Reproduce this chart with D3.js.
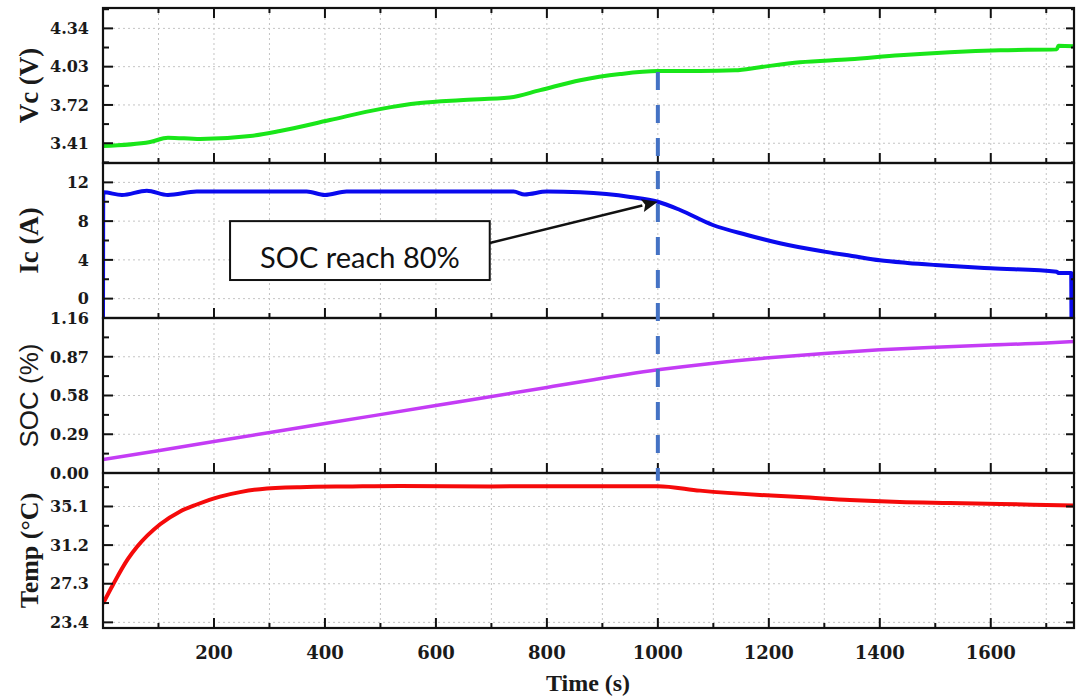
<!DOCTYPE html>
<html>
<head>
<meta charset="utf-8">
<script src="https://cdn.jsdelivr.net/npm/d3@7"></script>
<style>
  body { margin: 0; background: #fff; }
  svg { display: block; }
</style>
</head>
<body>
<svg id="chart" width="1076" height="698"></svg>
<script>
// ---- Time axis ----
const timeDomain = [0, 1750];
const timeMajorTicks = [200, 400, 600, 800, 1000, 1200, 1400, 1600];
const timeMinorTicks = [100, 300, 500, 700, 900, 1100, 1300, 1500, 1700];
const timeGridLines = [100, 200, 300, 400, 500, 600, 700, 800, 900, 1000, 1100, 1200, 1300, 1400, 1500, 1600, 1700];

// ---- Cell voltage Vc (V) ----
const vcDomain = [3.25, 4.505];
const vcTicks = [3.41, 3.72, 4.03, 4.34];
const vcTickLabels = ["3.41", "3.72", "4.03", "4.34"];
const vcMinorTicks = [3.255, 3.565, 3.875, 4.185, 4.495];
const vcData = [
  [0, 3.387], [85, 3.42], [117, 3.455], [175, 3.444], [265, 3.468], [319, 3.509],
  [409, 3.598], [499, 3.686], [571, 3.735], [643, 3.759], [733, 3.78], [788, 3.84],
  [860, 3.92], [932, 3.97], [1000, 3.994], [1076, 3.994], [1139, 4.0], [1184, 4.026],
  [1256, 4.066], [1346, 4.09], [1436, 4.123], [1526, 4.147], [1617, 4.163],
  [1719, 4.17], [1722, 4.20], [1750, 4.195]
];

// ---- Charging current Ic (A) ----
const icDomain = [-2, 14];
const icTicks = [0, 4, 8, 12];
const icTickLabels = ["0", "4", "8", "12"];
const icMinorTicks = [-2, 2, 6, 10, 14];
const icData = [
  [0, -3], [0.5, 10.97], [34, 10.7], [79, 11.14], [117, 10.7], [169, 11.05],
  [367, 11.05], [400, 10.7], [439, 11.05], [740, 11.05], [760, 10.75], [800, 11.05],
  [860, 10.97], [950, 10.5], [1000, 10.0], [1040, 9.15], [1099, 7.6], [1161, 6.57],
  [1220, 5.71], [1300, 4.85], [1350, 4.4], [1400, 3.95], [1450, 3.68], [1500, 3.47],
  [1600, 3.13], [1719, 2.78], [1722, 2.64], [1745, 2.64], [1745.5, -3]
];

// ---- State of charge SOC ----
const socDomain = [0, 1.16];
const socTicks = [0, 0.29, 0.58, 0.87, 1.16];
const socTickLabels = ["0.00", "0.29", "0.58", "0.87", "1.16"];
const socMinorTicks = [0.145, 0.435, 0.725, 1.015];
const socData = [
  [0, 0.10], [200, 0.235], [400, 0.37], [600, 0.505], [800, 0.64], [1000, 0.772],
  [1100, 0.822], [1200, 0.862], [1300, 0.895], [1400, 0.922], [1500, 0.942],
  [1600, 0.958], [1700, 0.973], [1750, 0.985]
];

// ---- Cell temperature (°C) ----
const tempDomain = [22.83, 38.48];
const tempTicks = [23.4, 27.3, 31.2, 35.1];
const tempTickLabels = ["23.4", "27.3", "31.2", "35.1"];
const tempMinorTicks = [25.35, 29.25, 33.15, 37.05];
const tempData = [
  [0, 25.3], [18, 27.2], [45, 29.8], [61, 31.0], [103, 33.3], [139, 34.6],
  [169, 35.3], [211, 36.1], [247, 36.55], [283, 36.85], [355, 37.05], [445, 37.12],
  [535, 37.17], [700, 37.12], [800, 37.15], [1000, 37.15], [1076, 36.7], [1184, 36.26],
  [1256, 36.06], [1346, 35.75], [1436, 35.55], [1526, 35.45], [1617, 35.35], [1750, 35.2]
];

// ---- Annotation: SOC reaches 80% at t = 1000 s ----
const markerTime = 1000;
const markerVcStart = 3.994;
const markerTempEnd = 37.7;
const annotationText = "SOC reach 80%";
const annotationBox = { t0: 229, t1: 697, i0: 8.0, i1: 1.92 };
const arrowTail = [697, 5.74];
const arrowHead = [1000, 10.0];

// ---- Layout ----
const plotLeft = 103, plotRight = 1074, plotTop = 8, panelH = 155;

const svg = d3.select("#chart");
const x = d3.scaleLinear().domain(timeDomain).range([plotLeft, plotRight]);

const panels = [
  { key: "vc", title: "Vc (V)", titleFont: "Liberation Serif", titleWeight: "bold", titleSize: 27,
    domain: vcDomain, ticks: vcTicks, labels: vcTickLabels, minor: vcMinorTicks,
    data: vcData, color: "#19e619", width: 4 },
  { key: "ic", title: "Ic (A)", titleFont: "Liberation Serif", titleWeight: "bold", titleSize: 27,
    domain: icDomain, ticks: icTicks, labels: icTickLabels, minor: icMinorTicks,
    data: icData, color: "#0a0aee", width: 4 },
  { key: "soc", title: "SOC (%)", titleFont: "Liberation Sans", titleWeight: "normal", titleSize: 26,
    domain: socDomain, ticks: socTicks, labels: socTickLabels, minor: socMinorTicks,
    data: socData, color: "#c43cf5", width: 3.5 },
  { key: "temp", title: "Temp (°C)", titleFont: "Liberation Serif", titleWeight: "bold", titleSize: 26,
    domain: tempDomain, ticks: tempTicks, labels: tempTickLabels, minor: tempMinorTicks,
    data: tempData, color: "#f50a0a", width: 4 }
];

panels.forEach((p, i) => {
  p.top = plotTop + i * panelH;
  p.bottom = p.top + panelH;
  p.y = d3.scaleLinear().domain(p.domain).range([p.bottom, p.top]);
});

const defs = svg.append("defs");
panels.forEach(p => {
  defs.append("clipPath").attr("id", "clip-" + p.key)
    .append("rect").attr("x", plotLeft).attr("y", p.top)
    .attr("width", plotRight - plotLeft).attr("height", panelH);
});

const gridColor = "#c4c4c4";
const tickFont = "DejaVu Serif";

panels.forEach((p, i) => {
  const g = svg.append("g").attr("class", "panel-" + p.key);

  // grid
  g.append("g").selectAll("line").data(timeGridLines).join("line")
    .attr("x1", d => x(d)).attr("x2", d => x(d))
    .attr("y1", p.top).attr("y2", p.bottom)
    .attr("stroke", gridColor).attr("stroke-width", 1).attr("stroke-dasharray", "2,3");
  g.append("g").selectAll("line").data(p.ticks.filter(v => p.y(v) > p.top + 1 && p.y(v) < p.bottom - 1)).join("line")
    .attr("x1", plotLeft).attr("x2", plotRight)
    .attr("y1", d => p.y(d)).attr("y2", d => p.y(d))
    .attr("stroke", gridColor).attr("stroke-width", 1).attr("stroke-dasharray", "2,3");

  // series
  const line = d3.line().x(d => x(d[0])).y(d => p.y(d[1])).curve(d3.curveMonotoneX);
  g.append("path").datum(p.data)
    .attr("clip-path", "url(#clip-" + p.key + ")")
    .attr("fill", "none").attr("stroke", p.color).attr("stroke-width", p.width)
    .attr("stroke-linejoin", "round").attr("stroke-linecap", "butt")
    .attr("d", line);

  // left ticks (inward)
  const axG = g.append("g").attr("stroke", "#111").attr("stroke-width", 2);
  axG.selectAll(".lmaj").data(p.ticks).join("line")
    .attr("x1", plotLeft).attr("x2", plotLeft + 10)
    .attr("y1", d => p.y(d)).attr("y2", d => p.y(d));
  axG.selectAll(".lmin").data(p.minor).join("line")
    .attr("x1", plotLeft).attr("x2", plotLeft + 6)
    .attr("y1", d => p.y(d)).attr("y2", d => p.y(d));
  // right ticks (inward)
  axG.selectAll(".rmaj").data(p.ticks).join("line")
    .attr("x1", plotRight).attr("x2", plotRight - 8)
    .attr("y1", d => p.y(d)).attr("y2", d => p.y(d));
  axG.selectAll(".rmin").data(p.minor).join("line")
    .attr("x1", plotRight).attr("x2", plotRight - 3)
    .attr("y1", d => p.y(d)).attr("y2", d => p.y(d));
  // bottom ticks pointing up
  axG.selectAll(".bmaj").data(timeMajorTicks).join("line")
    .attr("x1", d => x(d)).attr("x2", d => x(d))
    .attr("y1", p.bottom).attr("y2", p.bottom - 10);
  axG.selectAll(".bmin").data(timeMinorTicks).join("line")
    .attr("x1", d => x(d)).attr("x2", d => x(d))
    .attr("y1", p.bottom).attr("y2", p.bottom - 5);
  if (i === 0) {
    axG.selectAll(".tmaj").data(timeMajorTicks).join("line")
      .attr("x1", d => x(d)).attr("x2", d => x(d))
      .attr("y1", p.top).attr("y2", p.top + 10);
    axG.selectAll(".tmin").data(timeMinorTicks).join("line")
      .attr("x1", d => x(d)).attr("x2", d => x(d))
      .attr("y1", p.top).attr("y2", p.top + 5);
  }

  // frame
  g.append("rect").attr("x", plotLeft).attr("y", p.top)
    .attr("width", plotRight - plotLeft).attr("height", panelH)
    .attr("fill", "none").attr("stroke", "#111").attr("stroke-width", 2.2);

  // tick labels
  g.append("g").selectAll("text").data(p.ticks).join("text")
    .attr("x", 89).attr("y", d => p.y(d)).attr("dy", "0.36em")
    .attr("text-anchor", "end")
    .attr("font-family", tickFont).attr("font-weight", "bold").attr("font-size", 16)
    .attr("fill", "#1a1a1a")
    .text((d, k) => p.labels[k]);

  // axis title
  const cy = (p.top + p.bottom) / 2;
  g.append("text")
    .attr("transform", `translate(38,${cy}) rotate(-90)`)
    .attr("text-anchor", "middle")
    .attr("font-family", p.titleFont).attr("font-weight", p.titleWeight)
    .attr("font-size", p.titleSize).attr("fill", "#1a1a1a")
    .text(p.title);
});

// x tick labels and title
const bottomPanel = panels[panels.length - 1];
svg.append("g").selectAll("text").data(timeMajorTicks).join("text")
  .attr("x", d => x(d)).attr("y", bottomPanel.bottom + 31)
  .attr("text-anchor", "middle")
  .attr("font-family", tickFont).attr("font-weight", "bold").attr("font-size", 18)
  .attr("fill", "#1a1a1a")
  .text(d => d);
svg.append("text")
  .attr("x", 588).attr("y", 691)
  .attr("text-anchor", "middle")
  .attr("font-family", "Liberation Serif").attr("font-weight", "bold").attr("font-size", 24)
  .attr("fill", "#1a1a1a")
  .text("Time (s)");

// dashed marker line at t = 1000 s
const vcP = panels[0], icP = panels[1], tempP = panels[3];
svg.append("line")
  .attr("x1", x(markerTime)).attr("x2", x(markerTime))
  .attr("y1", vcP.y(markerVcStart) + 1).attr("y2", tempP.y(markerTempEnd))
  .attr("stroke", "#4472c4").attr("stroke-width", 4).attr("stroke-dasharray", "18,15");

// annotation box
const bx0 = x(annotationBox.t0), bx1 = x(annotationBox.t1);
const by0 = icP.y(annotationBox.i0), by1 = icP.y(annotationBox.i1);
svg.append("rect")
  .attr("x", bx0).attr("y", by0).attr("width", bx1 - bx0).attr("height", by1 - by0)
  .attr("fill", "#fff").attr("stroke", "#111").attr("stroke-width", 2);
svg.append("text")
  .attr("x", (bx0 + bx1) / 2).attr("y", by0 + 47)
  .attr("text-anchor", "middle")
  .attr("font-family", "Lato, 'Liberation Sans', sans-serif").attr("font-size", 29)
  .attr("fill", "#111")
  .text(annotationText);

// arrow from the box to the curve at t = 1000 s
const ax0 = x(arrowTail[0]), ay0 = icP.y(arrowTail[1]);
const ax1 = x(arrowHead[0]), ay1 = icP.y(arrowHead[1]);
const ang = Math.atan2(ay1 - ay0, ax1 - ax0);
const headLen = 16, headHalf = 6.5;
const bxh = ax1 - headLen * Math.cos(ang), byh = ay1 - headLen * Math.sin(ang);
svg.append("line")
  .attr("x1", ax0).attr("y1", ay0).attr("x2", bxh).attr("y2", byh)
  .attr("stroke", "#111").attr("stroke-width", 2.5);
svg.append("path")
  .attr("d", `M${ax1},${ay1}L${bxh - headHalf * Math.sin(ang)},${byh + headHalf * Math.cos(ang)}` +
             `L${bxh + 3 * Math.cos(ang)},${byh + 3 * Math.sin(ang)}` +
             `L${bxh + headHalf * Math.sin(ang)},${byh - headHalf * Math.cos(ang)}Z`)
  .attr("fill", "#111");
</script>
</body>
</html>
